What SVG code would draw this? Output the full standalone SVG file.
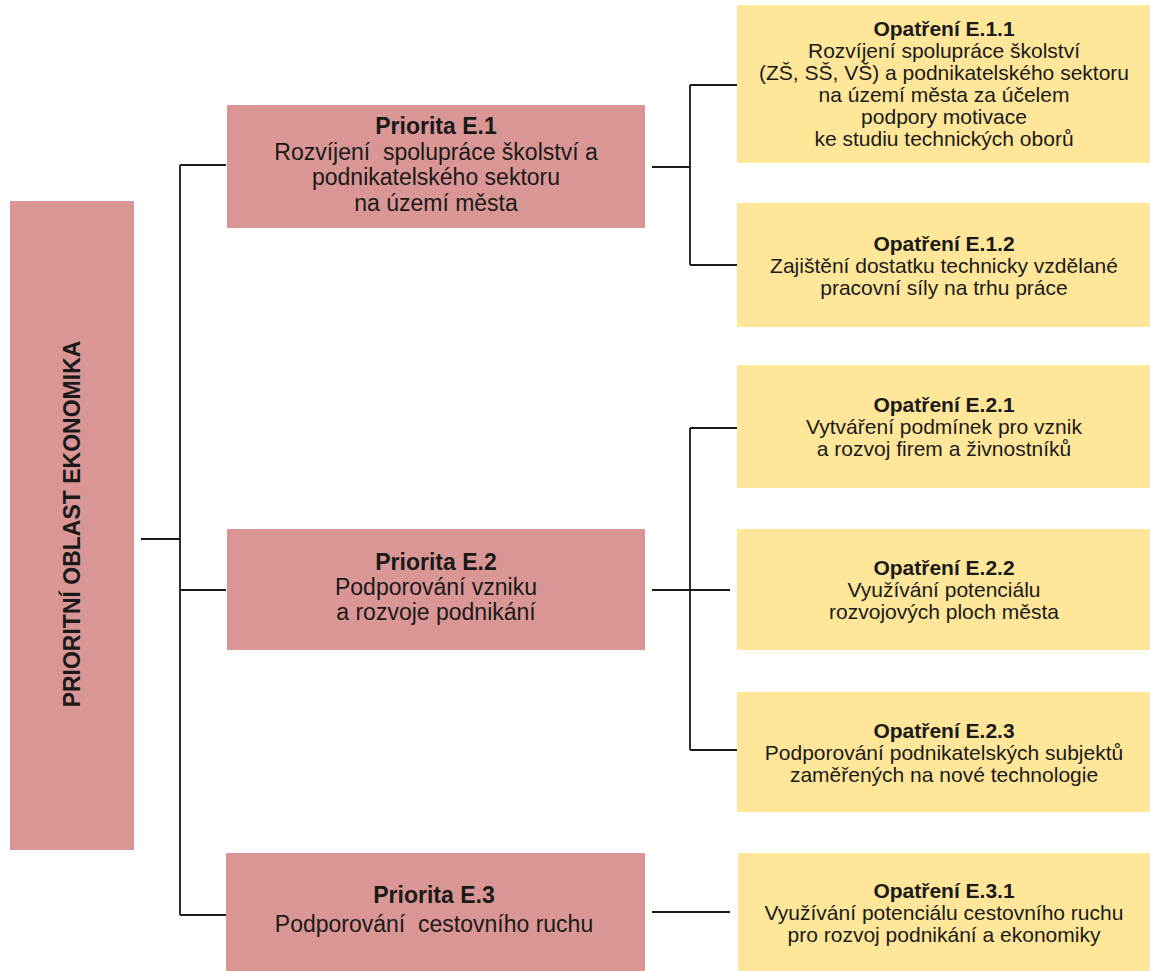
<svg xmlns="http://www.w3.org/2000/svg" width="1150" height="971" viewBox="0 0 1150 971">
  <style>
    .prio { fill: #D99694; }
    .meas { fill: #FFE699; }
    .t { font-family: "Liberation Sans", Arial, sans-serif; font-size: 23px; fill: #1a1a1a; text-anchor: middle; }
    .tm { font-family: "Liberation Sans", Arial, sans-serif; font-size: 21px; fill: #1a1a1a; text-anchor: middle; }
    .b { font-weight: bold; }
    .ln { stroke: #1a1a1a; stroke-width: 1.8; fill: none; }
  </style>
  <rect width="1150" height="971" fill="#ffffff"/>

  <!-- connectors -->
  <g id="connectors">
    <path class="ln" d="M141 539 H180 M180 165 V915 M180 165 H226 M180 590 H226 M180 915 H226"/>
    <path class="ln" d="M652 167 H690 M690 85 V265 M690 85 H737 M690 265 H737"/>
    <path class="ln" d="M652 590 H730 M690 428 V750 M690 428 H737 M690 750 H737"/>
    <path class="ln" d="M652 912 H730"/>
  </g>

  <!-- priority area -->
  <g id="area">
    <rect class="prio" x="10" y="201" width="124" height="649"/>
    <text class="t b" font-size="24.5" transform="translate(80 524) rotate(-90)">PRIORITNÍ OBLAST EKONOMIKA</text>
  </g>

  <!-- priorities -->
  <g id="prio-e1">
    <rect class="prio" x="227" y="105" width="418" height="123"/>
    <text class="t b" x="436" y="134">Priorita E.1</text>
    <text class="t" x="436" y="159.5" xml:space="preserve">Rozvíjení  spolupráce školství a</text>
    <text class="t" x="436" y="185">podnikatelského sektoru</text>
    <text class="t" x="436" y="210.5">na území města</text>
  </g>
  <g id="prio-e2">
    <rect class="prio" x="227" y="529" width="418" height="121"/>
    <text class="t b" x="436" y="570">Priorita E.2</text>
    <text class="t" x="436" y="595">Podporování vzniku</text>
    <text class="t" x="436" y="620">a rozvoje podnikání</text>
  </g>
  <g id="prio-e3">
    <rect class="prio" x="226" y="853" width="419" height="118"/>
    <text class="t b" x="434" y="903">Priorita E.3</text>
    <text class="t" x="434" y="932" xml:space="preserve">Podporování  cestovního ruchu</text>
  </g>

  <!-- measures -->
  <g id="meas-e11">
    <rect class="meas" x="737" y="5" width="413" height="158"/>
    <text class="tm b" x="944" y="36">Opatření E.1.1</text>
    <text class="tm" x="944" y="58">Rozvíjení spolupráce školství</text>
    <text class="tm" x="944" y="80">(ZŠ, SŠ, VŠ) a podnikatelského sektoru</text>
    <text class="tm" x="944" y="102">na území města za účelem</text>
    <text class="tm" x="944" y="124">podpory motivace</text>
    <text class="tm" x="944" y="146">ke studiu technických oborů</text>
  </g>
  <g id="meas-e12">
    <rect class="meas" x="737" y="203" width="413" height="124"/>
    <text class="tm b" x="944" y="250.5">Opatření E.1.2</text>
    <text class="tm" x="944" y="272.5">Zajištění dostatku technicky vzdělané</text>
    <text class="tm" x="944" y="294.5">pracovní síly na trhu práce</text>
  </g>
  <g id="meas-e21">
    <rect class="meas" x="737" y="365" width="413" height="123"/>
    <text class="tm b" x="944" y="412">Opatření E.2.1</text>
    <text class="tm" x="944" y="434">Vytváření podmínek pro vznik</text>
    <text class="tm" x="944" y="456">a rozvoj firem a živnostníků</text>
  </g>
  <g id="meas-e22">
    <rect class="meas" x="737" y="529" width="413" height="121"/>
    <text class="tm b" x="944" y="575">Opatření E.2.2</text>
    <text class="tm" x="944" y="597">Využívání potenciálu</text>
    <text class="tm" x="944" y="619">rozvojových ploch města</text>
  </g>
  <g id="meas-e23">
    <rect class="meas" x="737" y="692" width="413" height="120"/>
    <text class="tm b" x="944" y="737.5">Opatření E.2.3</text>
    <text class="tm" x="944" y="759.5">Podporování podnikatelských subjektů</text>
    <text class="tm" x="944" y="781.5">zaměřených na nové technologie</text>
  </g>
  <g id="meas-e31">
    <rect class="meas" x="738" y="853" width="412" height="118"/>
    <text class="tm b" x="944" y="898">Opatření E.3.1</text>
    <text class="tm" x="944" y="920">Využívání potenciálu cestovního ruchu</text>
    <text class="tm" x="944" y="942">pro rozvoj podnikání a ekonomiky</text>
  </g>
</svg>
